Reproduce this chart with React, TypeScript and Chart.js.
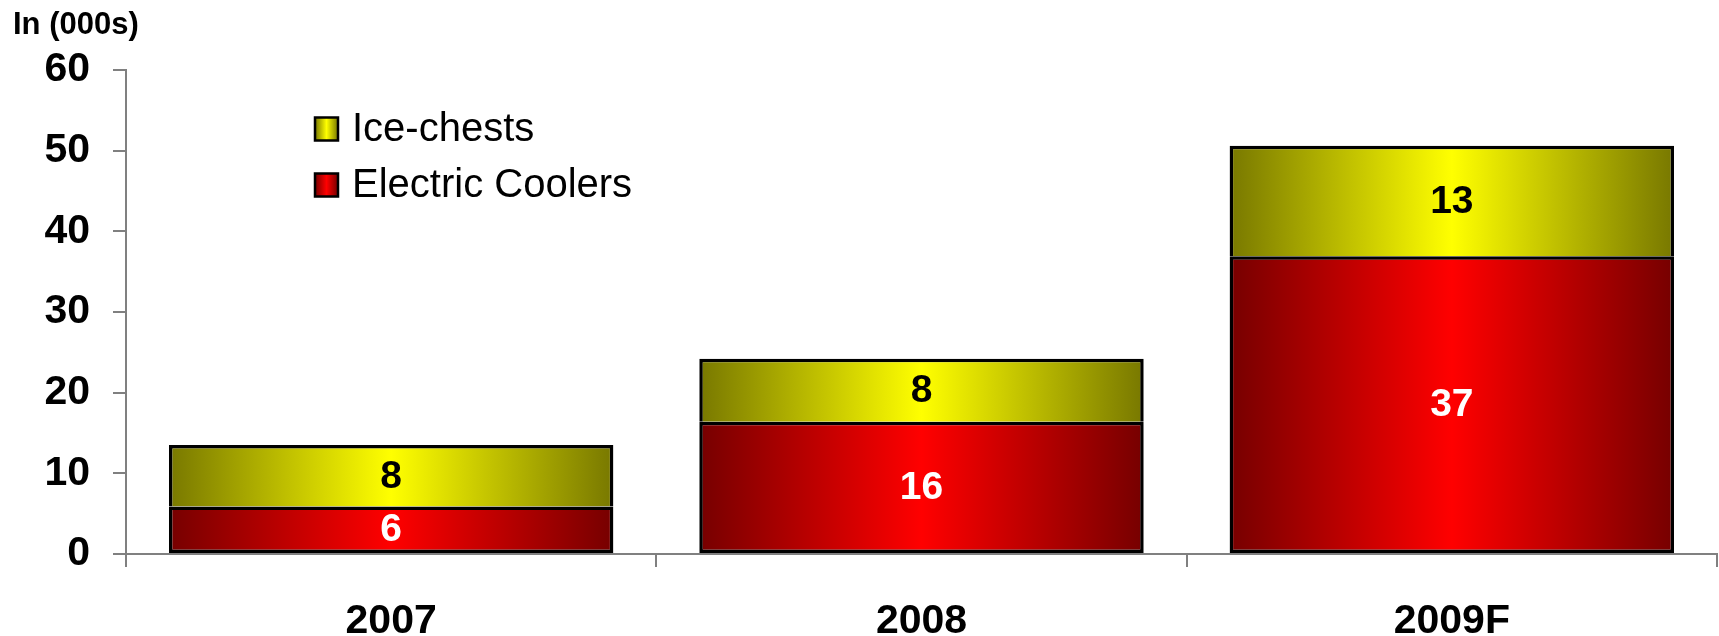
import React, { useEffect, useRef } from "react";
import { Chart, registerables } from "chart.js";

Chart.register(...registerables);

const categories = ["2007", "2008", "2009F"];
const electricCoolers = [5.9, 16.4, 36.9];
const iceChests = [7.6, 7.8, 13.7];
const electricLabels = ["6", "16", "37"];
const iceLabels = ["8", "8", "13"];
const seriesNames = ["Electric Coolers", "Ice-chests"];
const unitLabel = "In (000s)";
const yMin = 0;
const yMax = 60;
const yStep = 10;

const FONT = '"Liberation Sans", Arial, Helvetica, sans-serif';
const BAR_PCT = 0.838;
const RED_EDGE = "#760000";
const RED_MID = "#ff0000";
const YEL_EDGE = "#787800";
const YEL_MID = "#ffff00";
const AXIS_GRAY = "#808080";

function makeGradient(ctx: CanvasRenderingContext2D, x0: number, x1: number, edge: string, mid: string) {
  const g = ctx.createLinearGradient(x0, 0, x1, 0);
  g.addColorStop(0, edge);
  g.addColorStop(0.5, mid);
  g.addColorStop(1, edge);
  return g;
}

const barFill = (edge: string, mid: string) => (c: any) => {
  const chart = c.chart;
  const xs = chart.scales && chart.scales.x;
  if (!xs || !chart.chartArea || c.dataIndex === undefined) return mid;
  const cx = xs.getPixelForValue(c.dataIndex);
  const half = ((xs.width / categories.length) * BAR_PCT) / 2;
  return makeGradient(chart.ctx, cx - half, cx + half, edge, mid);
};

const segmentLabels = {
  id: "segmentLabels",
  afterDatasetsDraw(chart: any) {
    const ctx = chart.ctx;
    chart.data.datasets.forEach((ds: any, di: number) => {
      const meta = chart.getDatasetMeta(di);
      meta.data.forEach((bar: any, i: number) => {
        const p = bar.getProps(["x", "y", "base"], true);
        ctx.save();
        ctx.font = `bold 39px ${FONT}`;
        ctx.fillStyle = ds.labelColor;
        ctx.textAlign = "center";
        ctx.textBaseline = "middle";
        ctx.fillText(ds.valueLabels[i], p.x, (p.y + p.base) / 2 + 1);
        ctx.restore();
      });
    });
  },
};

const overlayText = {
  id: "overlayText",
  afterDraw(chart: any) {
    const ctx = chart.ctx;
    ctx.save();
    ctx.font = `bold 31px ${FONT}`;
    ctx.fillStyle = "#000";
    ctx.textAlign = "left";
    ctx.textBaseline = "middle";
    ctx.fillText(unitLabel, 13, 25);

    const items = [
      { name: seriesNames[1], edge: YEL_EDGE, mid: YEL_MID, cy: 129 },
      { name: seriesNames[0], edge: RED_EDGE, mid: RED_MID, cy: 185 },
    ];
    items.forEach((it) => {
      const x0 = 315;
      const s = 23;
      const y0 = it.cy - s / 2;
      ctx.fillStyle = makeGradient(ctx, x0, x0 + s, it.edge, it.mid);
      ctx.fillRect(x0, y0, s, s);
      ctx.lineWidth = 2.5;
      ctx.strokeStyle = "#000";
      ctx.strokeRect(x0, y0, s, s);
      ctx.font = `40px ${FONT}`;
      ctx.fillStyle = "#000";
      ctx.fillText(it.name, 352, it.cy + 1);
    });
    ctx.restore();
  },
};

export default function App() {
  const ref = useRef<HTMLCanvasElement | null>(null);

  useEffect(() => {
    if (!ref.current) return;
    Chart.defaults.font.family = FONT;
    const chart = new Chart(ref.current, {
      type: "bar",
      data: {
        labels: categories,
        datasets: [
          {
            label: seriesNames[0],
            data: electricCoolers,
            backgroundColor: barFill(RED_EDGE, RED_MID),
            borderColor: "#000",
            borderWidth: 3.5,
            borderSkipped: false,
            stack: "s",
            valueLabels: electricLabels,
            labelColor: "#ffffff",
          } as any,
          {
            label: seriesNames[1],
            data: iceChests,
            backgroundColor: barFill(YEL_EDGE, YEL_MID),
            borderColor: "#000",
            borderWidth: 3.5,
            borderSkipped: "start",
            stack: "s",
            valueLabels: iceLabels,
            labelColor: "#000000",
          } as any,
        ],
      },
      options: {
        responsive: false,
        animation: false,
        devicePixelRatio: 1,
        layout: { padding: { left: 0, top: 70, right: 2, bottom: 0 } },
        datasets: { bar: { categoryPercentage: 1, barPercentage: BAR_PCT } },
        plugins: {
          legend: { display: false },
          tooltip: { enabled: false },
          title: { display: false },
        },
        scales: {
          x: {
            stacked: true,
            offset: true,
            afterFit: (s: any) => {
              s.height = 82;
            },
            grid: {
              offset: true,
              drawOnChartArea: false,
              drawTicks: true,
              tickLength: 13,
              color: AXIS_GRAY,
              lineWidth: 2,
            },
            border: { display: true, color: AXIS_GRAY, width: 2 },
            ticks: {
              color: "#000",
              font: { size: 41, weight: "bold", family: FONT },
              padding: 30,
              maxRotation: 0,
            },
          },
          y: {
            stacked: true,
            min: yMin,
            max: yMax,
            afterFit: (s: any) => {
              s.width = 126;
            },
            grid: {
              drawOnChartArea: false,
              drawTicks: true,
              tickLength: 13,
              color: AXIS_GRAY,
              lineWidth: 2,
            },
            border: { display: true, color: AXIS_GRAY, width: 2 },
            ticks: {
              stepSize: yStep,
              color: "#000",
              font: { size: 41, weight: "bold", family: FONT },
              padding: 23,
            },
          },
        },
      },
      plugins: [segmentLabels, overlayText],
    });
    return () => chart.destroy();
  }, []);

  return (
    <div style={{ position: "fixed", left: 0, top: 0, width: 1719, height: 636, background: "#fff" }}>
      <canvas ref={ref} width={1719} height={636} style={{ display: "block", width: 1719, height: 636 }} />
    </div>
  );
}
